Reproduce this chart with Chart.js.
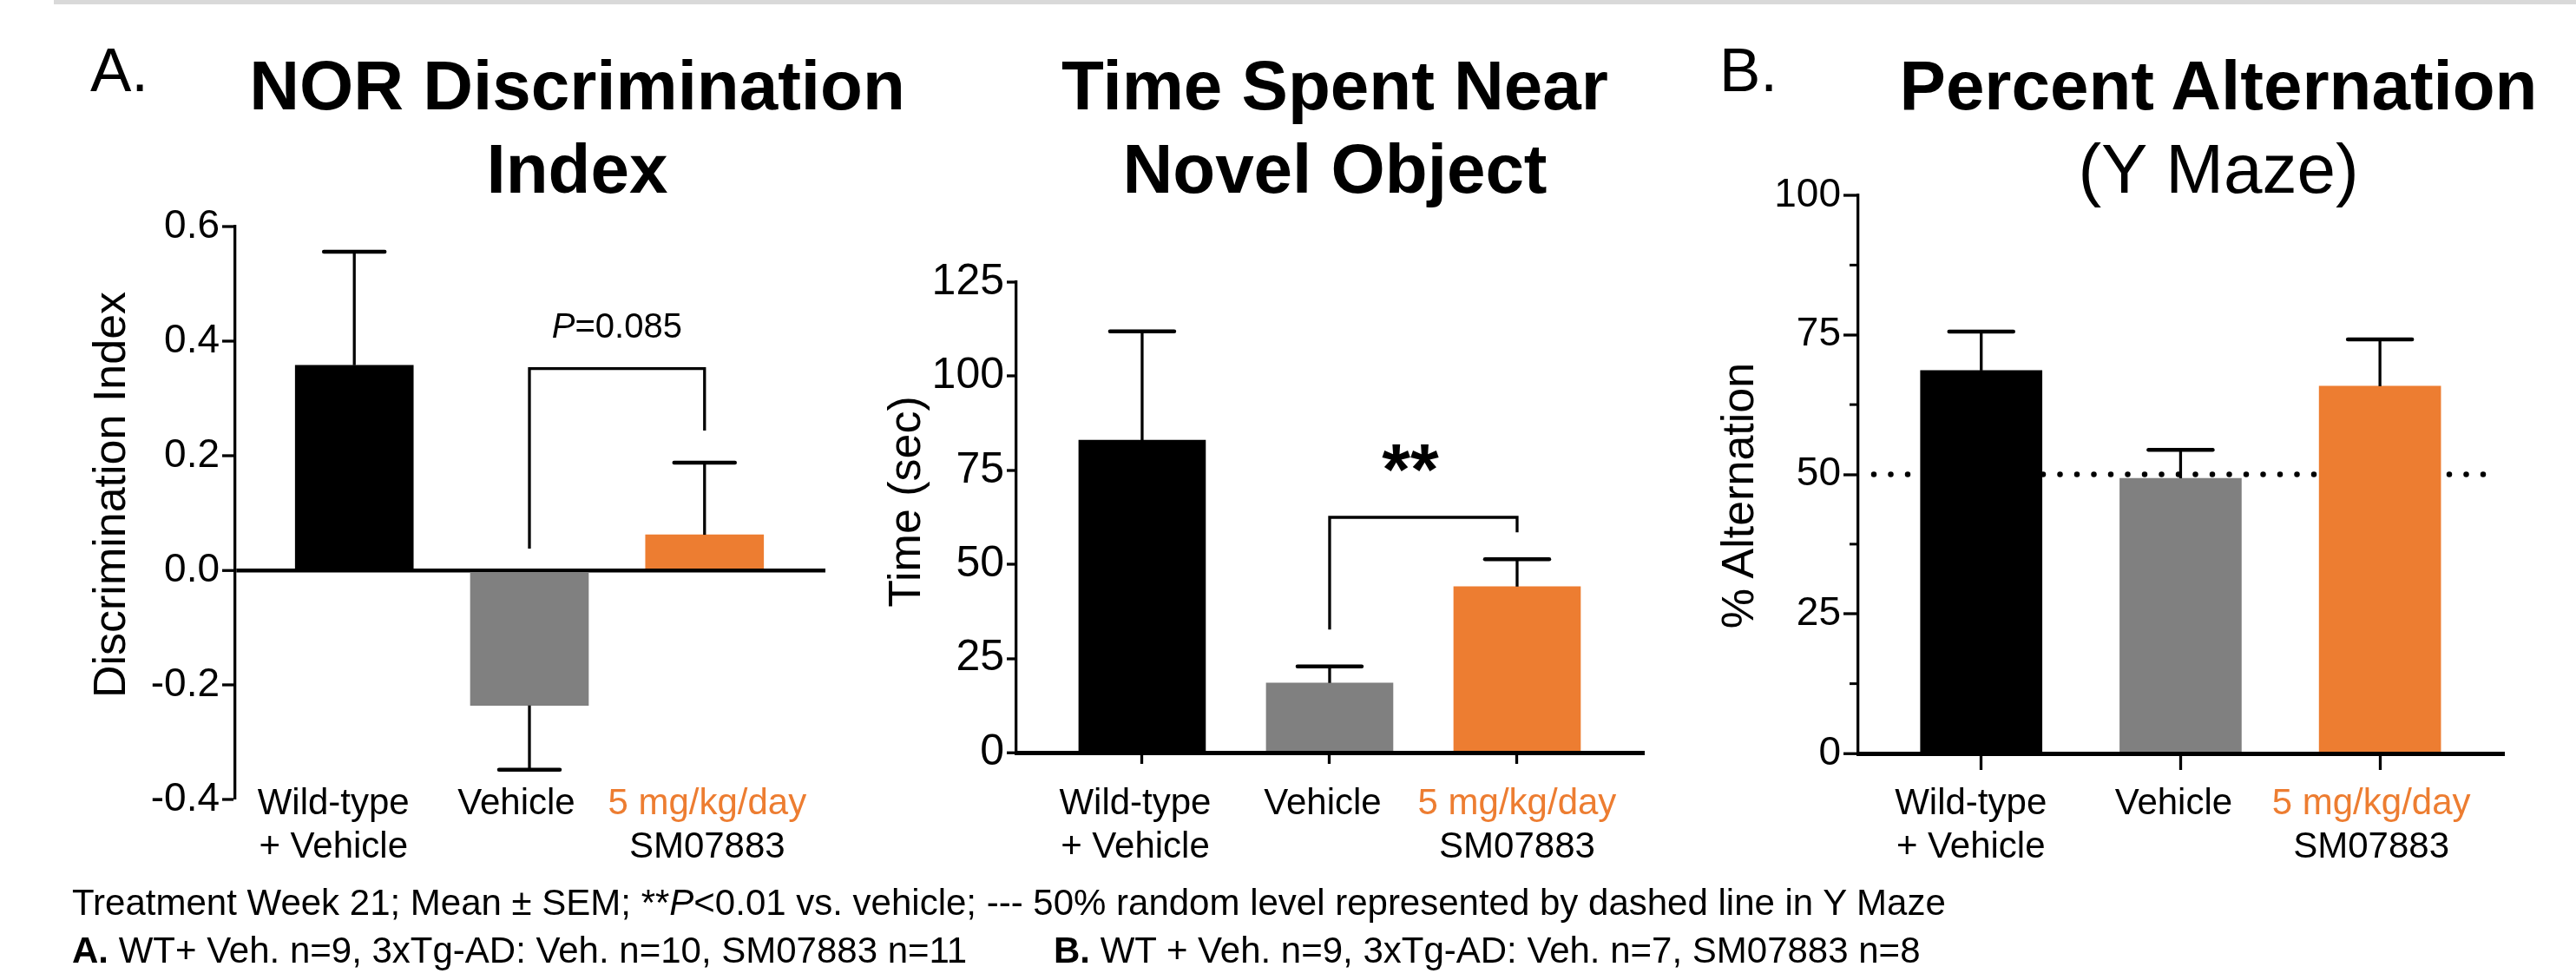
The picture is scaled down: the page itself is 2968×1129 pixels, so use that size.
<!DOCTYPE html>
<html>
<head>
<meta charset="utf-8">
<script src="https://cdn.jsdelivr.net/npm/chart.js@4.4.1/dist/chart.umd.min.js"></script>
<style>
  html, body { margin: 0; padding: 0; background: #fff; }
  body { width: 2968px; height: 1129px; position: relative; overflow: hidden;
         font-family: "Liberation Sans", Arial, Helvetica, sans-serif; color: #000; }
  .abs { position: absolute; white-space: nowrap; }
  canvas { position: absolute; top: 0; }
  .title { font-size: 80px; line-height: 96px; text-align: center; width: 1000px; top: 51px; }
  .panel { font-size: 71px; line-height: 71px; top: 45px; }
  .ytitle { font-size: 52px; line-height: 52px; width: 700px; text-align: center;
            transform: translate(-50%, -50%) rotate(-90deg); }
  .foot { font-size: 42px; line-height: 42px; }
</style>
</head>
<body>
<div class="abs" style="left:62px;top:0;width:2906px;height:5px;background:#d9d9d9"></div>

<div class="abs panel" style="left:104px">A.</div>
<div class="abs panel" style="left:1981px">B.</div>

<div class="abs title" style="left:165px;font-weight:bold">NOR Discrimination<br>Index</div>
<div class="abs title" style="left:1038px;font-weight:bold">Time Spent Near<br>Novel Object</div>
<div class="abs title" style="left:2056px"><b>Percent Alternation</b><br>(Y Maze)</div>

<div class="abs ytitle" style="left:126px;top:570px">Discrimination Index</div>
<div class="abs ytitle" style="left:1042px;top:578px">Time (sec)</div>
<div class="abs ytitle" style="left:2002px;top:571px">% Alternation</div>

<canvas id="c1" width="1000" height="1129" style="left:0px;width:1000px;height:1129px"></canvas>
<canvas id="c2" width="970" height="1129" style="left:980px;width:970px;height:1129px"></canvas>
<canvas id="c3" width="1018" height="1129" style="left:1950px;width:1018px;height:1129px"></canvas>

<div class="abs foot" style="left:83px;top:1019px">Treatment Week 21; Mean ± SEM; **<i>P</i>&lt;0.01 vs. vehicle; --- 50% random level represented by dashed line in Y Maze</div>
<div class="abs foot" style="left:83px;top:1074px"><b>A.</b> WT+ Veh. n=9, 3xTg-AD: Veh. n=10, SM07883 n=11</div>
<div class="abs foot" style="left:1214px;top:1074px"><b>B.</b> WT + Veh. n=9, 3xTg-AD: Veh. n=7, SM07883 n=8</div>

<script>
// ---------------- data ----------------
const categories = [["Wild-type", "+ Vehicle"], ["Vehicle"], ["5 mg/kg/day", "SM07883"]];
const barColors = ["#000000", "#808080", "#ED7D31"];
const labelColors = [["#000000", "#000000"], ["#000000"], ["#ED7D31", "#000000"]];

// A. NOR discrimination index
const norMean = [0.358, -0.236, 0.062];
const norSem = [0.198, 0.112, 0.126];
const norTicks = [-0.4, -0.2, 0.0, 0.2, 0.4, 0.6];
const norBracket = { from: 1, to: 2, left: 0.038, top: 0.352, right: 0.244 };
const norBracketText = [["P", "italic"], ["=0.085", "normal"]];

// A. Time spent near novel object (sec)
const timeMean = [83.0, 18.5, 44.1];
const timeSem = [28.9, 4.4, 7.3];
const timeTicks = [0, 25, 50, 75, 100, 125];
const timeBracket = { from: 1, to: 2, left: 32.7, top: 62.5, right: 58.5 };
const timeBracketText = [["**", "bold"]];

// B. Percent alternation (Y maze)
const altMean = [68.6, 49.3, 65.8];
const altSem = [7.0, 5.1, 8.4];
const altTicks = [0, 25, 50, 75, 100];
const altMinorTicks = [12.5, 37.5, 62.5, 87.5];
const chanceLevel = 50;

// ---------------- plugins ----------------
const FONT = '"Liberation Sans", Arial, Helvetica, sans-serif';
Chart.defaults.font.family = FONT;
Chart.defaults.color = "#000";

const errorBars = {
  id: "errorBars",
  afterDatasetsDraw(chart, args, o) {
    const meta = chart.getDatasetMeta(0);
    const ys = chart.scales.y, c = chart.ctx;
    const data = chart.data.datasets[0].data;
    meta.data.forEach((el, i) => {
      const m = data[i].y, s = o.sem[i];
      const end = m < 0 ? m - s : m + s;
      const x = el.x, y0 = ys.getPixelForValue(m), y1 = ys.getPixelForValue(end);
      c.save();
      c.strokeStyle = "#000";
      c.lineWidth = o.stem;
      c.beginPath(); c.moveTo(x, y0); c.lineTo(x, y1); c.stroke();
      c.lineWidth = o.cap; c.lineCap = "round";
      c.beginPath(); c.moveTo(x - o.capW / 2, y1); c.lineTo(x + o.capW / 2, y1); c.stroke();
      c.restore();
    });
  }
};

const bracket = {
  id: "bracket",
  afterDatasetsDraw(chart, args, o) {
    if (!o.b) return;
    const xs = chart.scales.x, ys = chart.scales.y, c = chart.ctx;
    const x1 = xs.getPixelForValue(o.b.from), x2 = xs.getPixelForValue(o.b.to);
    const yl = ys.getPixelForValue(o.b.left), yt = ys.getPixelForValue(o.b.top), yr = ys.getPixelForValue(o.b.right);
    c.save();
    c.strokeStyle = "#000"; c.lineWidth = 3.3; c.lineJoin = "miter";
    c.beginPath(); c.moveTo(x1, yl); c.lineTo(x1, yt); c.lineTo(x2, yt); c.lineTo(x2, yr); c.stroke();
    const parts = o.text.map(([t, st]) => {
      const f = (st === "italic" ? "italic " : st === "bold" ? "bold " : "") + o.size + "px " + FONT;
      c.font = f;
      return { t, f, w: c.measureText(t).width };
    });
    const total = parts.reduce((a, p) => a + p.w, 0);
    let x = (x1 + x2) / 2 + o.dx - total / 2;
    c.fillStyle = "#000"; c.textAlign = "left"; c.textBaseline = "alphabetic";
    parts.forEach(p => { c.font = p.f; c.fillText(p.t, x, yt - o.gap); x += p.w; });
    c.restore();
  }
};

const catLabels = {
  id: "catLabels",
  afterDraw(chart, args, o) {
    const xs = chart.scales.x, c = chart.ctx;
    c.save();
    c.font = o.size + "px " + FONT;
    c.textAlign = "center"; c.textBaseline = "alphabetic";
    categories.forEach((lines, i) => {
      const x = xs.getPixelForValue(i) + o.dx[i];
      lines.forEach((t, j) => {
        c.fillStyle = labelColors[i][j];
        c.fillText(t, x, o.y + j * o.lh);
      });
    });
    c.restore();
  }
};

const refLine = {
  id: "refLine",
  beforeDatasetsDraw(chart, args, o) {
    if (o.value === undefined) return;
    const ys = chart.scales.y, a = chart.chartArea, c = chart.ctx;
    const y = ys.getPixelForValue(o.value);
    c.save();
    c.strokeStyle = "#000"; c.lineWidth = 6.5; c.lineCap = "round";
    c.setLineDash([0, 19.5]);
    c.beginPath(); c.moveTo(a.left + 18, y); c.lineTo(a.right - 8, y); c.stroke();
    c.restore();
  }
};

const minorTicks = {
  id: "minorTicks",
  afterDraw(chart, args, o) {
    if (!o.values) return;
    const ys = chart.scales.y, a = chart.chartArea, c = chart.ctx;
    c.save();
    c.strokeStyle = "#000"; c.lineWidth = 3;
    o.values.forEach(v => {
      const y = ys.getPixelForValue(v);
      c.beginPath(); c.moveTo(a.left - o.len, y); c.lineTo(a.left, y); c.stroke();
    });
    c.restore();
  }
};

function makeChart(id, cfg) {
  return new Chart(document.getElementById(id), {
    type: "bar",
    data: {
      datasets: [{
        data: cfg.mean.map((v, i) => ({ x: i, y: v })),
        backgroundColor: barColors,
        borderWidth: 0,
        barThickness: cfg.barW
      }]
    },
    options: {
      responsive: false,
      animation: false,
      devicePixelRatio: 1,
      layout: { padding: cfg.pad },
      plugins: {
        legend: { display: false },
        tooltip: { enabled: false },
        title: { display: false },
        errorBars: { sem: cfg.sem, stem: 3.3, cap: 4.5, capW: cfg.capW },
        bracket: { b: cfg.bracket, text: cfg.bracketText, size: cfg.bSize, gap: cfg.bGap, dx: cfg.bDx },
        catLabels: { y: 938, lh: 50, size: 42, dx: cfg.labelDx },
        refLine: { value: cfg.ref },
        minorTicks: { values: cfg.minor, len: 10 }
      },
      scales: {
        x: {
          type: "linear",
          min: cfg.xmin, max: cfg.xmax,
          offset: false,
          display: cfg.xAxis,
          z: 1,
          afterBuildTicks: s => { s.ticks = categories.map((c, i) => ({ value: i })); },
          afterFit: s => { s.height = cfg.xAxis ? 100 : 0; },
          grid: { offset: false, drawOnChartArea: false, drawTicks: true, tickLength: cfg.xTickLen,
                  tickColor: "#000", tickWidth: 3.3, color: "#000" },
          border: { display: true, color: "#000", width: 5 },
          ticks: { callback: () => "", padding: 0 }
        },
        y: {
          min: cfg.ticks[0], max: cfg.ticks[cfg.ticks.length - 1],
          z: 1,
          afterBuildTicks: s => { s.ticks = cfg.ticks.map(v => ({ value: v })); },
          afterFit: s => { s.width = cfg.yW; },
          border: { display: true, color: "#000", width: 3.3 },
          grid: {
            drawOnChartArea: cfg.zeroLine,
            drawTicks: true,
            tickLength: cfg.yTickLen,
            tickColor: "#000",
            tickWidth: 3.3,
            color: ctx => (ctx.tick && ctx.tick.value === 0) ? "#000" : "rgba(0,0,0,0)",
            lineWidth: ctx => (ctx.tick && ctx.tick.value === 0) ? 4.5 : 0
          },
          ticks: {
            color: "#000",
            padding: 3,
            font: { size: cfg.tickSize },
            callback: v => cfg.fmt(v)
          }
        }
      }
    },
    plugins: [errorBars, bracket, catLabels, refLine, minorTicks]
  });
}

makeChart("c1", {
  mean: norMean, sem: norSem, ticks: norTicks, fmt: v => v.toFixed(1),
  pad: { left: 0, right: 49, top: 261, bottom: 208 },
  yW: 271, xmin: -0.68, xmax: 2.69, barW: 136, capW: 70,
  xAxis: false, xTickLen: 0, yTickLen: 15, zeroLine: true, tickSize: 46,
  bracket: norBracket, bracketText: norBracketText, bSize: 40, bGap: 36, bDx: 0,
  labelDx: [-24, -15, 3]
});

makeChart("c2", {
  mean: timeMean, sem: timeSem, ticks: timeTicks, fmt: v => String(v),
  pad: { left: 0, right: 56, top: 325, bottom: 162 },
  yW: 191, xmin: -0.671, xmax: 2.676, barW: 146, capW: 74,
  xAxis: true, xTickLen: 13, yTickLen: 11, zeroLine: false, tickSize: 50,
  bracket: timeBracket, bracketText: timeBracketText, bSize: 84, bGap: 26, bDx: -15,
  labelDx: [-8, -8, 0]
});

makeChart("c3", {
  mean: altMean, sem: altSem, ticks: altTicks, fmt: v => String(v),
  pad: { left: 0, right: 83, top: 225, bottom: 161 },
  yW: 191, xmin: -0.617, xmax: 2.622, barW: 140, capW: 74,
  xAxis: true, xTickLen: 19, yTickLen: 17, zeroLine: false, tickSize: 46,
  ref: chanceLevel, minor: altMinorTicks,
  labelDx: [-12, -8, -10]
});
</script>
</body>
</html>
